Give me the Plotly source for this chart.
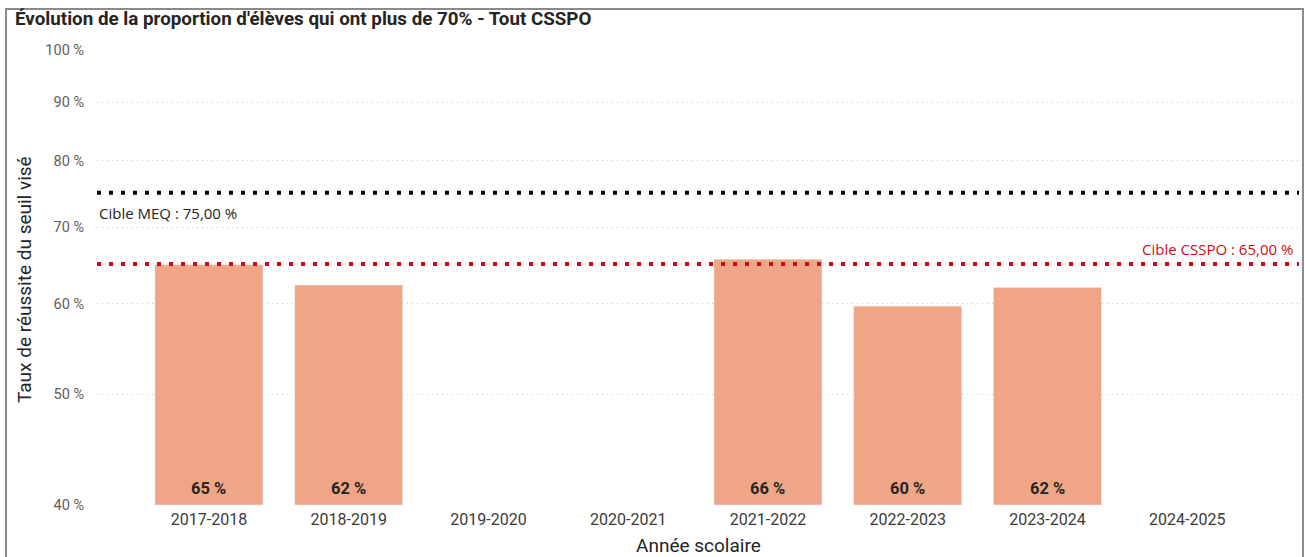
import math
import plotly.graph_objects as go

# data
years = ['2017-2018', '2018-2019', '2019-2020', '2020-2021',
         '2021-2022', '2022-2023', '2023-2024', '2024-2025']
rates = [0.649, 0.623, None, None, 0.656, 0.597, 0.620, None]
rate_labels = ['65 %', '62 %', '', '', '66 %', '60 %', '62 %', '']
y_ticks = [0.4, 0.5, 0.6, 0.7, 0.8, 0.9, 1.0]
y_tick_text = ['40 %', '50 %', '60 %', '70 %', '80 %', '90 %', '100 %']
target_meq = 0.75
target_csspo = 0.65

bar_color = '#EFA686'
red = '#D10A11'
txt = '#252423'
grey = '#605E5C'
font_main = 'Roboto, "Open Sans", sans-serif'
font_seg = '"Open Sans", "Noto Sans", sans-serif'

# bars drawn from the 40 % floor of the log axis
base = 0.4
fig = go.Figure(go.Bar(
    x=years,
    y=[None if r is None else r - base for r in rates],
    base=base,
    marker_color=bar_color,
    width=0.773,
    hoverinfo='skip',
))

# target lines
fig.add_shape(type='line', xref='paper', x0=0, x1=1, yref='y', y0=target_meq, y1=target_meq,
              line=dict(color='black', width=4, dash='4px,8px'))
fig.add_shape(type='line', xref='paper', x0=0, x1=1, yref='y', y0=target_csspo, y1=target_csspo,
              line=dict(color=red, width=4, dash='4px,8px'))

# outer frame
fig.add_shape(type='rect', xref='paper', yref='paper', x0=-0.0757, x1=1.0033, y0=-0.2, y1=1.090,
              line=dict(color='#8A8A8A', width=2), layer='above')

anns = [
    dict(text="Évolution de la proportion d'élèves qui ont plus de 70% - Tout CSSPO",
         xref='paper', yref='paper', x=-0.0699, y=1.068, xanchor='left', yanchor='middle',
         showarrow=False, font=dict(family=font_main, size=18.8, color=txt, weight='bold')),
    dict(text='Taux de réussite du seuil visé', textangle=-90,
         xref='paper', yref='paper', x=-0.0607, y=0.4945, xanchor='center', yanchor='middle',
         showarrow=False, font=dict(family=font_main, size=19, color=txt)),
    dict(text='Année scolaire', xref='paper', yref='paper', x=0.5, y=-0.090,
         xanchor='center', yanchor='middle', showarrow=False,
         font=dict(family=font_main, size=19, color=txt)),
    dict(text='Cible MEQ : 75,00 %', xref='paper', yref='paper', x=0.0, y=0.6418,
         xanchor='left', yanchor='middle', showarrow=False,
         font=dict(family=font_seg, size=15, color=txt)),
    dict(text='Cible CSSPO : 65,00 %', xref='paper', yref='paper', x=0.9967, y=0.5626,
         xanchor='right', yanchor='middle', showarrow=False,
         font=dict(family=font_seg, size=15, color=red)),
]
for yr, lab in zip(years, rate_labels):
    if lab:
        anns.append(dict(text=lab, xref='x', yref='paper', x=yr, y=0.0352,
                         xanchor='center', yanchor='middle', showarrow=False,
                         font=dict(family=font_main, size=16.5, color=txt, weight='bold')))

fig.update_layout(
    width=1305, height=557,
    margin=dict(l=97, r=6, t=50, b=52),
    paper_bgcolor='white', plot_bgcolor='white',
    showlegend=False,
    annotations=anns,
    xaxis=dict(type='category', categoryorder='array', categoryarray=years,
               range=[-0.801, 7.80], showgrid=False, zeroline=False, showline=False,
               ticks='', tickfont=dict(family=font_main, size=16, color='#3B3A39'),
               ticklabelstandoff=3),
    yaxis=dict(type='log', range=[math.log10(0.4), 0], tickvals=y_ticks, ticktext=y_tick_text,
               showgrid=True, gridcolor='#C8C8C8', gridwidth=1, griddash='1px,4px',
               zeroline=False, showline=False, ticks='', ticklabelstandoff=12,
               tickfont=dict(family=font_main, size=14.5, color=grey)),
)

# page margin off so the fixed-size figure sits at the window's corner
fig.write_html('out.html', config={'displayModeBar': False},
               post_script="document.body.style.margin='0';")
